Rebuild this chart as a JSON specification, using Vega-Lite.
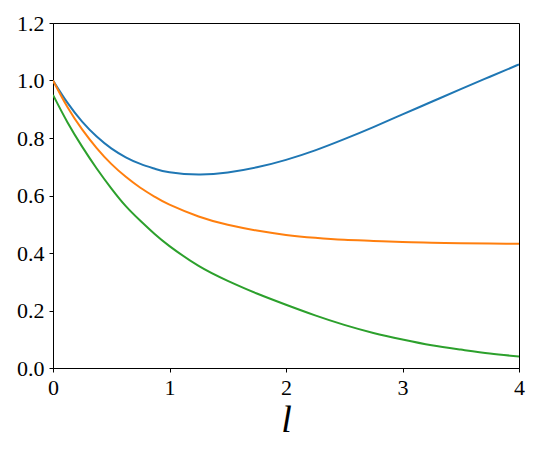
{
  "$schema": "https://vega.github.io/schema/vega-lite/v6.json",
  "width": 466,
  "height": 345,
  "autosize": {"type": "none"},
  "padding": {"left": 53, "top": 23, "right": 21, "bottom": 82},
  "background": "white",
  "config": {
    "view": {"stroke": "black", "strokeWidth": 1},
    "axis": {
      "grid": false,
      "domainColor": "black",
      "domainWidth": 1,
      "tickColor": "black",
      "tickSize": 4,
      "tickWidth": 1,
      "labelFont": "Liberation Serif",
      "labelFontSize": 22,
      "labelColor": "black",
      "labelFlush": false
    }
  },
  "data": {
    "values": [
      {"l": 0, "v": 1.0, "s": "s1"},
      {"l": 0.125, "v": 0.922, "s": "s1"},
      {"l": 0.25, "v": 0.857, "s": "s1"},
      {"l": 0.375, "v": 0.805, "s": "s1"},
      {"l": 0.5, "v": 0.764, "s": "s1"},
      {"l": 0.625, "v": 0.733, "s": "s1"},
      {"l": 0.75, "v": 0.710, "s": "s1"},
      {"l": 0.875, "v": 0.693, "s": "s1"},
      {"l": 1.0, "v": 0.681, "s": "s1"},
      {"l": 1.25, "v": 0.673, "s": "s1"},
      {"l": 1.5, "v": 0.680, "s": "s1"},
      {"l": 1.75, "v": 0.698, "s": "s1"},
      {"l": 2.0, "v": 0.724, "s": "s1"},
      {"l": 2.25, "v": 0.757, "s": "s1"},
      {"l": 2.5, "v": 0.796, "s": "s1"},
      {"l": 2.75, "v": 0.838, "s": "s1"},
      {"l": 3.0, "v": 0.882, "s": "s1"},
      {"l": 3.25, "v": 0.926, "s": "s1"},
      {"l": 3.5, "v": 0.970, "s": "s1"},
      {"l": 3.75, "v": 1.013, "s": "s1"},
      {"l": 4.0, "v": 1.056, "s": "s1"},
      {"l": 0, "v": 1.0, "s": "s2"},
      {"l": 0.125, "v": 0.907, "s": "s2"},
      {"l": 0.25, "v": 0.830, "s": "s2"},
      {"l": 0.375, "v": 0.765, "s": "s2"},
      {"l": 0.5, "v": 0.710, "s": "s2"},
      {"l": 0.625, "v": 0.665, "s": "s2"},
      {"l": 0.75, "v": 0.627, "s": "s2"},
      {"l": 0.875, "v": 0.595, "s": "s2"},
      {"l": 1.0, "v": 0.568, "s": "s2"},
      {"l": 1.25, "v": 0.527, "s": "s2"},
      {"l": 1.5, "v": 0.498, "s": "s2"},
      {"l": 1.75, "v": 0.478, "s": "s2"},
      {"l": 2.0, "v": 0.463, "s": "s2"},
      {"l": 2.25, "v": 0.453, "s": "s2"},
      {"l": 2.5, "v": 0.446, "s": "s2"},
      {"l": 2.75, "v": 0.442, "s": "s2"},
      {"l": 3.0, "v": 0.438, "s": "s2"},
      {"l": 3.25, "v": 0.436, "s": "s2"},
      {"l": 3.5, "v": 0.434, "s": "s2"},
      {"l": 3.75, "v": 0.433, "s": "s2"},
      {"l": 4.0, "v": 0.432, "s": "s2"},
      {"l": 0, "v": 0.950, "s": "s3"},
      {"l": 0.125, "v": 0.854, "s": "s3"},
      {"l": 0.25, "v": 0.770, "s": "s3"},
      {"l": 0.375, "v": 0.694, "s": "s3"},
      {"l": 0.5, "v": 0.625, "s": "s3"},
      {"l": 0.625, "v": 0.563, "s": "s3"},
      {"l": 0.75, "v": 0.512, "s": "s3"},
      {"l": 0.875, "v": 0.465, "s": "s3"},
      {"l": 1.0, "v": 0.424, "s": "s3"},
      {"l": 1.25, "v": 0.355, "s": "s3"},
      {"l": 1.5, "v": 0.303, "s": "s3"},
      {"l": 1.75, "v": 0.259, "s": "s3"},
      {"l": 2.0, "v": 0.220, "s": "s3"},
      {"l": 2.25, "v": 0.183, "s": "s3"},
      {"l": 2.5, "v": 0.150, "s": "s3"},
      {"l": 2.75, "v": 0.122, "s": "s3"},
      {"l": 3.0, "v": 0.099, "s": "s3"},
      {"l": 3.25, "v": 0.079, "s": "s3"},
      {"l": 3.5, "v": 0.064, "s": "s3"},
      {"l": 3.75, "v": 0.0505, "s": "s3"},
      {"l": 4.0, "v": 0.040, "s": "s3"}
    ]
  },
  "mark": {"type": "line", "strokeWidth": 2, "interpolate": "natural", "clip": true},
  "encoding": {
    "x": {
      "field": "l",
      "type": "quantitative",
      "scale": {"domain": [0, 4], "nice": false, "zero": false},
      "axis": {
        "values": [0, 1, 2, 3, 4],
        "format": "d",
        "labelFont": "Liberation Serif",
        "labelFontSize": 22,
        "labelFlush": false,
        "labelPadding": 5,
        "title": "l",
        "titleFont": "Liberation Serif",
        "titleFontStyle": "italic",
        "titleFontWeight": "normal",
        "titleFontSize": 38,
        "titleColor": "black",
        "titlePadding": 3
      }
    },
    "y": {
      "field": "v",
      "type": "quantitative",
      "scale": {"domain": [0, 1.2], "nice": false},
      "axis": {
        "values": [0, 0.2, 0.4, 0.6, 0.8, 1.0, 1.2],
        "format": ".1f",
        "labelFont": "Liberation Serif",
        "labelFontSize": 22,
        "labelPadding": 5,
        "title": null
      }
    },
    "color": {
      "field": "s",
      "type": "nominal",
      "scale": {"domain": ["s1", "s2", "s3"], "range": ["#1f77b4", "#ff7f0e", "#2ca02c"]},
      "legend": null
    }
  }
}
